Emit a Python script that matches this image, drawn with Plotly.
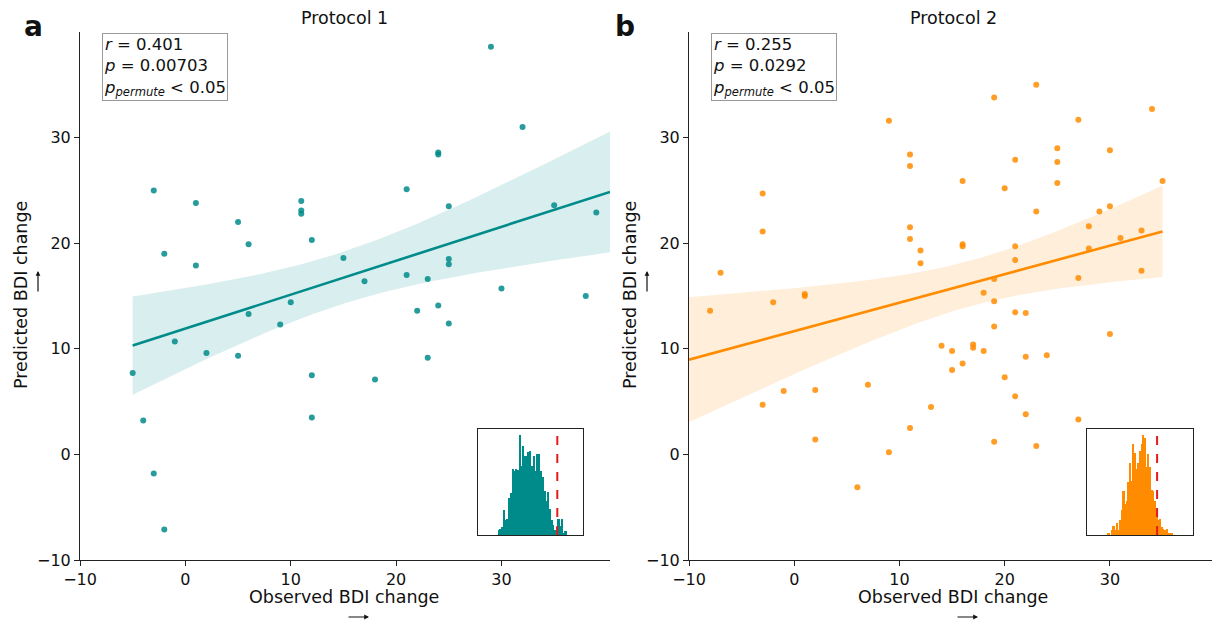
import numpy as np
import plotly.graph_objects as go

# ---------------- data ----------------
# Protocol 1: observed vs predicted BDI change
obs_p1 = [-3, 1, 5, 11, 11, 11, -2, 6, 1, 12, 15, 10, 6, 9, -1, 2, 5, -5, 12, -4, 12, -3, -2,
          29, 32, 24, 24, 21, 25, 35, 39, 25, 25, 17, 21, 23, 30, 38, 22, 24, 25, 23, 18]
pred_p1 = [25.0, 23.8, 22.0, 24.0, 23.1, 22.8, 19.0, 19.9, 17.9, 20.3, 18.6, 14.4, 13.3, 12.3, 10.7,
           9.6, 9.35, 7.7, 7.5, 3.2, 3.5, -1.8, -7.1,
           38.6, 31.0, 28.6, 28.4, 25.1, 23.5, 23.6, 22.9, 18.5, 18.0, 16.4, 17.0, 16.6, 15.7,
           15.0, 13.6, 14.1, 12.4, 9.15, 7.1]

# Protocol 2: observed vs predicted BDI change
obs_p2 = [9, 11, 11, -3, -3, 11, 11, 12, 12, -7, -8, -2, 1, 1, 7, -1, 2, -3, 13, 11, 2, 9, 6,
          23, 19, 34, 27, 25, 30, 21, 25, 16, 20, 25, 35, 23, 30, 29, 28, 33, 31, 16, 16, 21, 21,
          28, 19, 27, 33, 18, 19, 21, 22, 19, 30, 14, 15, 17, 17, 18, 16, 15, 22, 24, 20, 21, 22,
          27, 19, 23]
pred_p2 = [31.6, 28.4, 27.3, 24.7, 21.1, 21.5, 20.4, 19.3, 18.1, 17.2, 13.6, 14.4, 15.0, 15.2, 6.6,
           6.0, 6.1, 4.7, 4.5, 2.5, 1.4, 0.2, -3.1,
           35.0, 33.8, 32.7, 31.7, 29.0, 28.8, 27.9, 27.7, 25.9, 25.2, 25.7, 25.9, 23.0, 23.5,
           23.0, 21.6, 21.2, 20.5, 19.9, 19.7, 19.7, 18.4, 19.5, 16.6, 16.7, 17.4, 15.3, 14.5,
           13.45, 13.4, 12.1, 11.4, 10.3, 9.8, 10.4, 10.1, 9.8, 8.6, 8.0, 9.25, 9.4, 7.3, 5.5,
           3.8, 3.3, 1.2, 0.8]

# Permutation null distributions of r (bin counts)
null_p1_start, null_p1_width = -0.192, 0.0176
null_p1_counts = [14, 19, 24, 74, 44, 49, 112, 126, 199, 194, 199, 196, 302, 209, 269, 239, 239,
                  251, 254, 209, 239, 194, 244, 246, 194, 174, 132, 104, 129, 79, 44, 29, 16, 24,
                  48, 26, 49, 4, 11]
null_p2_start, null_p2_width = -0.234, 0.0165
null_p2_counts = [4, 0, 14, 28, 14, 36, 14, 44, 76, 132, 94, 104, 159, 216, 164, 274, 249, 199,
                  216, 254, 274, 302, 294, 204, 244, 204, 136, 134, 104, 74, 44, 49, 24, 19, 14,
                  19, 4, 6, 6, 0]

r_p1, p_p1 = 0.401, 0.00703
r_p2, p_p2 = 0.255, 0.0292

tick_vals = [-10, 0, 10, 20, 30]
x_range_p1 = [-10, 40.3]
x_range_p2 = [-10, 39.7]
y_range = [-10, 40]
fit_span_p1 = (-5, 40.3)
fit_span_p2 = (-10, 35)

TEAL = "#008b8b"
ORANGE = "#ff8c00"
FONT = "DejaVu Sans"

W, H = 1212, 623


def px(xp):
    return xp / W


def py(yp):
    return 1 - yp / H


def t_quantile(df, z=1.959964):
    # Cornish-Fisher expansion for the 97.5% t quantile
    return (z + (z ** 3 + z) / (4 * df)
            + (5 * z ** 5 + 16 * z ** 3 + 3 * z) / (96 * df ** 2))


def fit_band(x, y, span):
    x = np.asarray(x, float)
    y = np.asarray(y, float)
    n = len(x)
    b1, b0 = np.polyfit(x, y, 1)
    grid = np.linspace(span[0], span[1], 100)
    yhat = b0 + b1 * grid
    resid = y - (b0 + b1 * x)
    s = np.sqrt(np.sum(resid ** 2) / (n - 2))
    sxx = np.sum((x - x.mean()) ** 2)
    se = s * np.sqrt(1 / n + (grid - x.mean()) ** 2 / sxx)
    t = t_quantile(n - 2)
    return grid, yhat, yhat - t * se, yhat + t * se


fig = go.Figure()


def add_panel(obs, pred, span, color, band_rgba, point_rgba, xa, ya):
    grid, yhat, lo, hi = fit_band(obs, pred, span)
    fig.add_trace(go.Scatter(x=grid, y=lo, mode="lines", line=dict(width=0),
                             hoverinfo="skip", showlegend=False, xaxis=xa, yaxis=ya))
    fig.add_trace(go.Scatter(x=grid, y=hi, mode="lines", line=dict(width=0),
                             fill="tonexty", fillcolor=band_rgba,
                             hoverinfo="skip", showlegend=False, xaxis=xa, yaxis=ya))
    fig.add_trace(go.Scatter(x=obs, y=pred, mode="markers",
                             marker=dict(size=6, color=point_rgba, line=dict(width=0)),
                             showlegend=False, xaxis=xa, yaxis=ya))
    fig.add_trace(go.Scatter(x=grid, y=yhat, mode="lines",
                             line=dict(color=color, width=2.6),
                             showlegend=False, xaxis=xa, yaxis=ya))


add_panel(obs_p1, pred_p1, fit_span_p1, TEAL, "rgba(0,139,139,0.15)",
          "rgba(0,139,139,0.85)", "x", "y")
add_panel(obs_p2, pred_p2, fit_span_p2, ORANGE, "rgba(255,140,0,0.15)",
          "rgba(255,140,0,0.85)", "x2", "y2")


def add_hist(start, width, counts, color, xa, ya):
    centers = [start + width * (i + 0.5) for i in range(len(counts))]
    fig.add_trace(go.Bar(x=centers, y=counts, width=width, marker=dict(color=color, line=dict(width=0)),
                         showlegend=False, xaxis=xa, yaxis=ya))


add_hist(null_p1_start, null_p1_width, null_p1_counts, TEAL, "x3", "y3")
add_hist(null_p2_start, null_p2_width, null_p2_counts, ORANGE, "x4", "y4")

# observed r marked on each null distribution
for r_obs, xa, ya in [(r_p1, "x3", "y3"), (r_p2, "x4", "y4")]:
    fig.add_shape(type="line", xref=xa, yref=ya + " domain", x0=r_obs, x1=r_obs, y0=0, y1=1,
                  line=dict(color="#e41a1c", width=2, dash="dash"))

# axes
main_axis = dict(showline=True, linecolor="#222", linewidth=1, ticks="outside", ticklen=5,
                 tickwidth=1, tickcolor="#222", showgrid=False, zeroline=False, automargin=False,
                 tickvals=tick_vals, tickfont=dict(family=FONT, size=16, color="#111"))
inset_axis = dict(showline=True, mirror=True, linecolor="#222", linewidth=1, ticks="",
                  showticklabels=False, showgrid=False, zeroline=False, automargin=False)

fig.update_layout(
    width=W, height=H, margin=dict(l=0, r=0, t=0, b=0, autoexpand=False),
    plot_bgcolor="white", paper_bgcolor="white", bargap=0,
    font=dict(family=FONT, color="#111"),
    xaxis=dict(main_axis, domain=[px(80), px(610)], range=x_range_p1, anchor="y"),
    yaxis=dict(main_axis, domain=[py(560), py(32)], range=y_range, anchor="x"),
    xaxis2=dict(main_axis, domain=[px(689), 1.0], range=x_range_p2, anchor="y2"),
    yaxis2=dict(main_axis, domain=[py(560), py(32)], range=y_range, anchor="x2"),
    xaxis3=dict(inset_axis, domain=[px(478), px(583)], range=[-0.392, 0.658], anchor="y3"),
    yaxis3=dict(inset_axis, domain=[py(535), py(429)], range=[0, 320], anchor="x3"),
    xaxis4=dict(inset_axis, domain=[px(1087), px(1193)], range=[-0.442, 0.612], anchor="y4"),
    yaxis4=dict(inset_axis, domain=[py(535), py(429)], range=[0, 320], anchor="x4"),
)

ann = []


def text(x, y, s, size, **kw):
    d = dict(xref="paper", yref="paper", x=px(x), y=py(y), text=s, showarrow=False,
             xanchor="center", yanchor="middle",
             font=dict(family=FONT, size=size, color="#111"))
    d.update(kw)
    ann.append(d)


# titles, panel letters and axis labels
text(344, 18, "Protocol 1", 17.5)
text(953, 18, "Protocol 2", 17.5)
text(33, 26, "<b>a</b>", 28)
text(625, 26, "<b>b</b>", 28)
text(344, 597, "Observed BDI change", 17.5)
text(953, 597, "Observed BDI change", 17.5)
text(21, 295, "Predicted BDI change", 17.5, textangle=-90)
text(630, 295, "Predicted BDI change", 17.5, textangle=-90)


def stat_box(x, y, r, p):
    s = (f"<i>r</i> = {r}<br><i>p</i> = {p}<br>"
         f"<i>p</i><sub><i>permute</i></sub> &lt; 0.05")
    text(x, y, s, 16.5, xanchor="left", yanchor="top", align="left",
         bordercolor="#999", borderwidth=1, borderpad=1, bgcolor="white")


stat_box(102, 33, r_p1, p_p1)
stat_box(711, 33, r_p2, p_p2)

# direction arrows next to the axis labels
for hx, hy, ax, ay in [(369, 617, -22, 0), (978, 617, -22, 0), (38, 271, 0, 22), (647, 271, 0, 22)]:
    ann.append(dict(xref="paper", yref="paper", x=px(hx), y=py(hy), ax=ax, ay=ay, text="",
                    showarrow=True, arrowhead=2, arrowsize=0.8, arrowwidth=1.2, arrowcolor="#111"))

fig.update_layout(annotations=ann)
fig.write_html("out.html")
